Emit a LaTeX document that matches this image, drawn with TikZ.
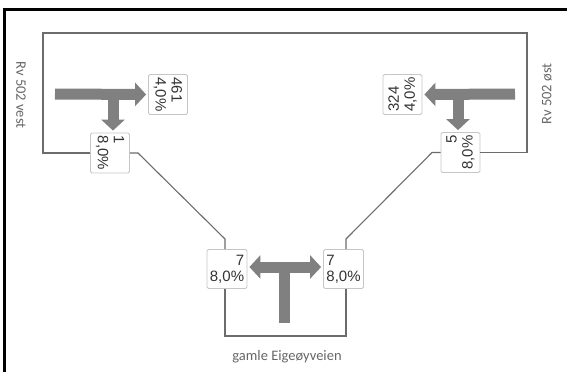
\documentclass[tikz,border=0pt]{standalone}
\usepackage{fontspec}
\setmainfont{Carlito}
\newfontfamily\boxfont{Liberation Sans}
\usetikzlibrary{arrows.meta}

\begin{document}
\begin{tikzpicture}[x=1pt, y=-1pt,
    road/.style = {draw=gray!85!black, line width=1.1pt},
    count/.style = {shape=rectangle, rounded corners=1.5pt, draw=gray!45, line width=0.8pt,
      fill=white, minimum width=40pt, minimum height=39pt, inner sep=1pt,
      font=\boxfont\fontsize{15}{16}\selectfont, text=black!80},
    flow/.style = {draw=gray, line width=11pt,
      -{Triangle[width=23pt, length=11pt]}, shorten >=2pt},
    roadname/.style = {font=\fontsize{14.5}{16}\selectfont, text=black!60}]
  \useasboundingbox (0,0) rectangle (567,372);
  % frame
  \draw[line width=3pt] (4.5,372) -- (4.5,9.5) -- (567,9.5);

  % counting boxes
  \node[count, rotate=-90, align=left] (vestNed) at (110,153) {1\\8,0\%};
  \node[count, rotate=-90, align=left] (vestFram) at (168,94.5) {461\\4,0\%};
  \node[count, rotate=90, align=left] (ostFram) at (402.5,94.5) {324\\4,0\%};
  \node[count, rotate=90, align=right] (ostNed) at (460.5,152.5) {5\\8,0\%};
  \node[count, align=right] (gamleV) at (227,269) {7\\8,0\%};
  \node[count, align=left] (gamleO) at (343.5,269) {7\\8,0\%};

  % roads
  \draw[road] (vestNed.south) -- (43,153) -- (43,33) -- (527,33) -- (527,152.5) -- (ostNed.south);
  \draw[road] (vestNed.north) -- (138,153) -- (225,239) -- (225,249);
  \draw[road] (ostNed.north) -- (432,152.5) -- (346,239) -- (346,249);
  \draw[road] (225,289) -- (225,336) -- (346,336) -- (346,289);

  % flows
  \coordinate (inVest) at (55,94);
  \coordinate (kryssVest) at (113,94);
  \coordinate (inOst) at (515,94);
  \coordinate (kryssOst) at (458,94);
  \coordinate (inGamle) at (284,323);
  \coordinate (kryssGamle) at (284,267);
  \draw[flow] (inVest) -- (vestFram.south);
  \draw[flow] (kryssVest) -- (kryssVest |- vestNed.west);
  \draw[flow] (inOst) -- (ostFram.south);
  \draw[flow] (kryssOst) -- (kryssOst |- ostNed.east);
  \draw[flow, {Triangle[width=23pt, length=11pt]}-{Triangle[width=23pt, length=11pt]}, shorten <=2pt]
    (gamleV.east |- kryssGamle) -- (gamleO.west |- kryssGamle);
  \draw[flow, -] (inGamle) -- (kryssGamle);

  % road names
  \node[roadname, rotate=-90] (vest) at (21,95) {Rv 502 vest};
  \node[roadname, rotate=90] (ost) at (547,94) {Rv 502 øst};
  \node[roadname] (gamle) at (287,357) {gamle Eigeøyveien};
\end{tikzpicture}
\end{document}
